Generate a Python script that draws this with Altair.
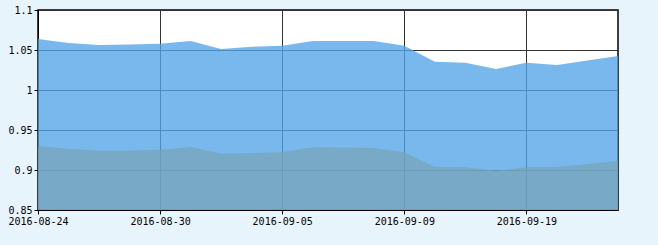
import altair as alt
import pandas as pd

dates = ["2016-08-24", "2016-08-25", "2016-08-26", "2016-08-29", "2016-08-30",
         "2016-08-31", "2016-09-01", "2016-09-02", "2016-09-05", "2016-09-06",
         "2016-09-07", "2016-09-08", "2016-09-09", "2016-09-12", "2016-09-13",
         "2016-09-14", "2016-09-19", "2016-09-20", "2016-09-21", "2016-09-22"]
upper = [1.0638, 1.0588, 1.0563, 1.0569, 1.0579, 1.0613, 1.0513, 1.0541, 1.0554, 1.0613,
         1.0613, 1.0613, 1.0554, 1.0354, 1.0341, 1.0263, 1.0341, 1.0313, 1.0369, 1.0425]
lower = [0.9300, 0.9263, 0.9241, 0.9244, 0.9254, 0.9288, 0.9204, 0.9213, 0.9221, 0.9284,
         0.9281, 0.9275, 0.9221, 0.9041, 0.9034, 0.8991, 0.9034, 0.9038, 0.9075, 0.9113]
tick_dates = ["2016-08-24", "2016-08-30", "2016-09-05", "2016-09-09", "2016-09-19"]

df_up = pd.DataFrame({"date": dates, "value": upper})
df_lo = pd.DataFrame({"date": dates, "value": lower})

x_enc = alt.X("date:O", sort=None, title=None,
              scale=alt.Scale(type="point", padding=0),
              axis=alt.Axis(values=tick_dates, labelAngle=0, tickSize=4, labelPadding=2,
                            grid=True, gridColor="#333333", domainColor="#000000",
                            tickColor="#000000"))
y_enc = alt.Y("value:Q", title=None,
              scale=alt.Scale(domain=[0.85, 1.1], zero=False, nice=False),
              axis=alt.Axis(values=[0.85, 0.9, 0.95, 1.0, 1.05, 1.1], tickSize=4, labelPadding=2,
                            labelExpr="format(datum.value, '.3~f')",
                            grid=True, gridColor="#333333", domainColor="#000000",
                            tickColor="#000000"))

a_up = alt.Chart(df_up).mark_area(color="#52a4e7", opacity=0.78, clip=True).encode(
    x=x_enc, y=y_enc)
a_lo = alt.Chart(df_lo).mark_area(color="#78a4b8", opacity=0.7, clip=True).encode(
    x=x_enc, y=y_enc)

chart = alt.layer(a_up, a_lo).properties(
    width=580, height=200,
    background="#e8f4fc",
    padding={"left": 38, "top": 10, "right": 40, "bottom": 35},
    autosize=alt.AutoSizeParams(type="none"),
).configure_view(fill="#ffffff", stroke="#000000", strokeWidth=1.5).configure_axis(
    labelFont="DejaVu Sans Mono", labelFontSize=10, labelColor="#000000",
    gridOpacity=1, gridWidth=1, domainWidth=1,
)

chart.save("out.html", embed_options={"renderer": "svg", "actions": False})
